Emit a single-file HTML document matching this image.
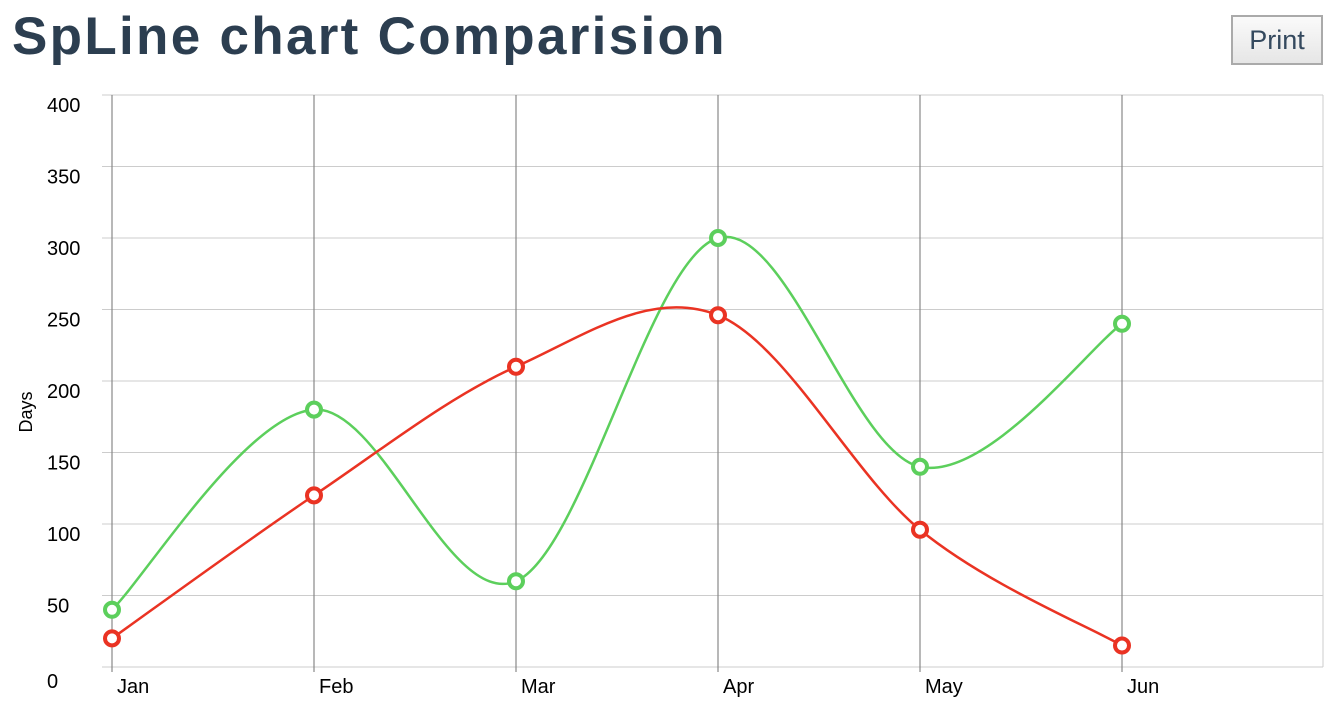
<!DOCTYPE html>
<html><head><meta charset="utf-8">
<style>
body{margin:0;background:#fff;width:1342px;height:722px;overflow:hidden;font-family:"Liberation Sans",sans-serif}
#title{position:absolute;left:12px;top:6px;font-size:53px;font-weight:bold;color:#2c3e50;letter-spacing:2.3px;margin:0}
#print{position:absolute;left:1231px;top:15px;width:92px;height:50px;border:2px solid #aaa;background:linear-gradient(#fafafa,#e6e6e6);color:#34495e;font-size:27px;font-family:"Liberation Sans",sans-serif;box-sizing:border-box;padding:0}
svg{position:absolute;left:0;top:0}
</style></head><body>
<h1 id="title">SpLine chart Comparision</h1>
<button id="print">Print</button>
<svg id="chart" width="1342" height="722"></svg>
<script>
const categories=["Jan","Feb","Mar","Apr","May","Jun"];
const greenValues=[40,180,60,300,140,240];
const redValues=[20,120,210,246,96,15];
const yTicks=[0,50,100,150,200,250,300,350,400];
const NS="http://www.w3.org/2000/svg";
const svg=document.getElementById('chart');
const x0=112,step=202,yBase=667,yTop=95,yMax=400;
const xs=i=>x0+i*step;
const ys=v=>yBase-(v/yMax)*(yBase-yTop);
function mk(t,a,p){const e=document.createElementNS(NS,t);for(const k in a)e.setAttribute(k,a[k]);(p||svg).appendChild(e);return e;}
yTicks.forEach(v=>{
 const l=mk('line',{x1:102,x2:1323,y1:ys(v),y2:ys(v),stroke:'#ccc','stroke-width':1});
 
 
 const t=mk('text',{x:47,y:ys(v)+(v===0?21:17),'font-size':20,fill:'#000'});
 t.textContent=v;
 
 
});
const rb=mk('line',{x1:1323,x2:1323,y1:yTop,y2:yBase,stroke:'#ccc'});


categories.forEach((c,i)=>{
 const l=mk('line',{x1:xs(i),x2:xs(i),y1:yTop,y2:672,stroke:'#888','stroke-width':1.2});
 
 
 const t=mk('text',{x:xs(i)+5,y:693,'font-size':20,fill:'#000'});
 t.textContent=c;
 
 
});
const yt=mk('text',{x:0,y:0,'font-size':18,fill:'#000',transform:'translate(32,412) rotate(-90)','text-anchor':'middle'});
yt.textContent='Days';


function spline(vals){
 const p=vals.map((v,i)=>[xs(i),ys(v)]);
 let d=`M${p[0][0]},${p[0][1]}`;
 for(let i=0;i<p.length-1;i++){
  const a=p[Math.max(i-1,0)],b=p[i],c=p[i+1],e=p[Math.min(i+2,p.length-1)];
  const c1=[b[0]+(c[0]-a[0])/6,b[1]+(c[1]-a[1])/6];
  const c2=[c[0]-(e[0]-b[0])/6,c[1]-(e[1]-b[1])/6];
  d+=`C${c1[0]},${c1[1]} ${c2[0]},${c2[1]} ${c[0]},${c[1]}`;
 }
 return d;
}
function series(vals,color,name){
 const p=mk('path',{d:spline(vals),fill:'none',stroke:color,'stroke-width':2.5});
 
 
 vals.forEach((v,i)=>{
  const c=mk('circle',{cx:xs(i),cy:ys(v),r:7,fill:'#fff',stroke:color,'stroke-width':4});
  
  
 });
}
series(greenValues,'#5ccf5c','green-series');
series(redValues,'#ea3323','red-series');
</script>
</body></html>
